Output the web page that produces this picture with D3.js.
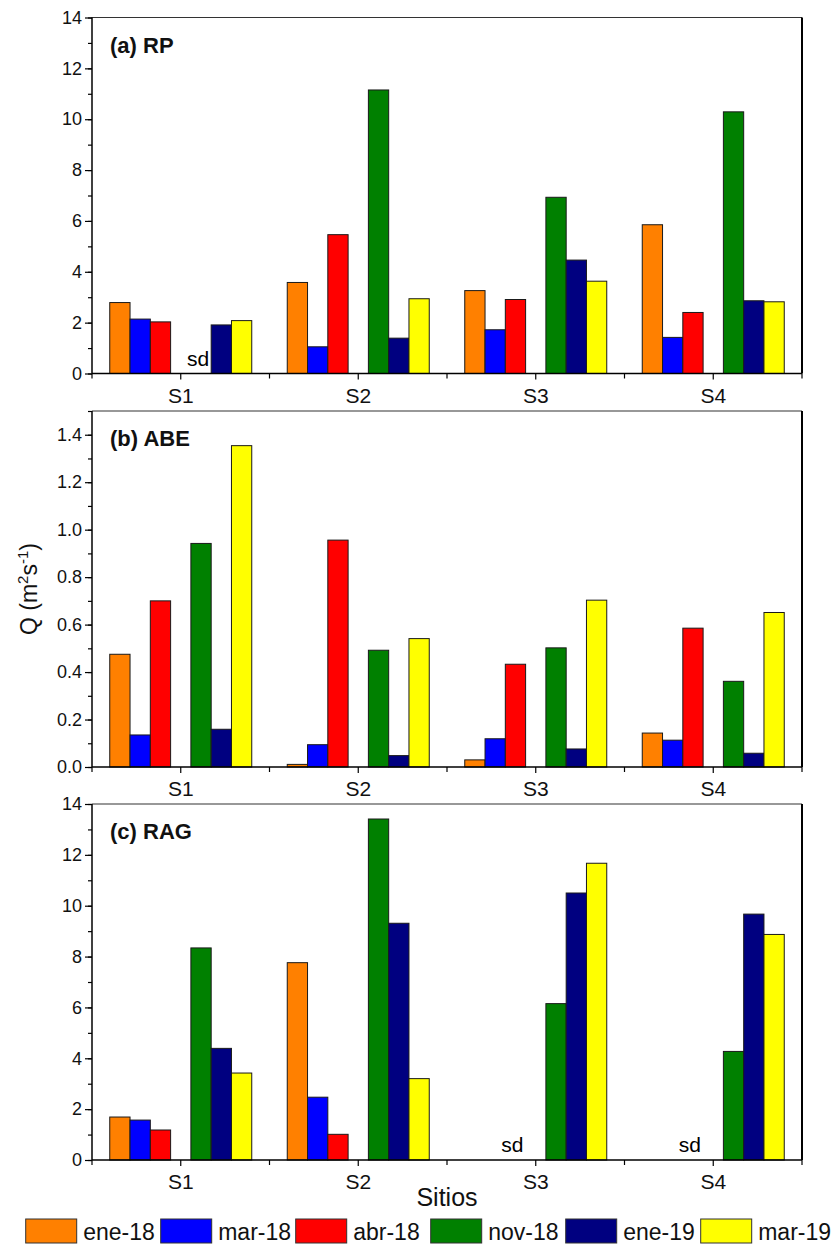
<!DOCTYPE html>
<html>
<head>
<meta charset="utf-8">
<script src="https://cdn.jsdelivr.net/npm/d3@7"></script>
<style>
  html, body { margin: 0; padding: 0; background: #fff; }
  svg { display: block; font-family: "Liberation Sans", Arial, sans-serif; }
</style>
</head>
<body>
<svg id="chart" width="837" height="1245"></svg>
<script>
// Sampling sites and campaigns
const sites = ["S1", "S2", "S3", "S4"];
const periods = ["ene-18", "mar-18", "abr-18", "nov-18", "ene-19", "mar-19"];
const periodColors = ["#FF8000", "#0000FF", "#FF0000", "#008000", "#000080", "#FFFF00"];

// Q (m2 s-1); one row per campaign, one value per site (null = sin dato)
const rpValues = [
  [2.79, 3.58, 3.26, 5.85],
  [2.14, 1.05, 1.72, 1.42],
  [2.03, 5.46, 2.91, 2.40],
  [null, 11.15, 6.93, 10.29],
  [1.91, 1.39, 4.46, 2.86],
  [2.08, 2.94, 3.63, 2.82]
];
const abeValues = [
  [0.475, 0.011, 0.030, 0.143],
  [0.135, 0.094, 0.119, 0.113],
  [0.700, 0.956, 0.433, 0.585],
  [0.942, 0.492, 0.502, 0.361],
  [0.159, 0.048, 0.076, 0.058],
  [1.354, 0.541, 0.703, 0.651]
];
const ragValues = [
  [1.69, 7.76, null, null],
  [1.57, 2.47, null, null],
  [1.18, 1.01, null, null],
  [8.34, 13.41, 6.15, 4.27],
  [4.39, 9.31, 10.50, 9.67],
  [3.42, 3.20, 11.67, 8.87]
];

// "sd" notes: site and the campaign slot where the note sits
const rpNotes = [{ site: "S1", period: "nov-18" }];
const abeNotes = [];
const ragNotes = [{ site: "S3", period: "abr-18" }, { site: "S4", period: "abr-18" }];

// Axis settings per panel
const panelTitles = ["(a) RP", "(b) ABE", "(c) RAG"];
const yMax = [14, 1.5, 14];
const yMajorStep = [2, 0.2, 2];
const yMinorStep = [1, 0.1, 1];
const yFormats = ["d", ".1f", "d"];

const panels = [
  { title: panelTitles[0], values: rpValues, notes: rpNotes },
  { title: panelTitles[1], values: abeValues, notes: abeNotes },
  { title: panelTitles[2], values: ragValues, notes: ragNotes }
];

const svg = d3.select("#chart");
const font = '"Liberation Sans", Arial, sans-serif';

const left = 92, right = 802;
const panelTops = [17.5, 411, 804];
const panelH = 356;

const x = d3.scaleBand().domain(sites).range([left, right]).paddingInner(0).paddingOuter(0);
const bw = x.bandwidth();
// seven slots per site: three 2018 campaigns, a blank slot, then three more
const slotKeys = ["ene-18", "mar-18", "abr-18", "_gap", "nov-18", "ene-19", "mar-19"];
const slot = d3.scaleBand().domain(slotKeys).range([bw * 0.1, bw * 0.9]).padding(0);

function stepTicks(max, step) {
  const n = Math.floor(max / step + 1e-6);
  return d3.range(0, n + 1).map(i => +(i * step).toFixed(4));
}

panels.forEach((p, pi) => {
  const top = panelTops[pi], bottom = top + panelH;
  const y = d3.scaleLinear().domain([0, yMax[pi]]).range([bottom, top]);
  const g = svg.append("g");

  // bars
  const bars = [];
  p.values.forEach((row, k) => {
    row.forEach((v, si) => {
      if (v !== null) bars.push({ site: sites[si], period: periods[k], color: periodColors[k], v });
    });
  });
  g.selectAll("rect.bar").data(bars).join("rect")
    .attr("class", "bar")
    .attr("x", d => x(d.site) + slot(d.period))
    .attr("width", slot.bandwidth())
    .attr("y", d => y(d.v))
    .attr("height", d => y(0) - y(d.v))
    .attr("fill", d => d.color)
    .attr("stroke", "#1a1a1a")
    .attr("stroke-width", 1);

  // "sd" notes
  g.selectAll("text.note").data(p.notes).join("text")
    .attr("class", "note")
    .attr("x", d => x(d.site) + slot(d.period) + slot.bandwidth() / 2 - 3)
    .attr("y", bottom - 8)
    .attr("text-anchor", "middle")
    .attr("font-size", 21)
    .attr("fill", "#000")
    .text("sd");

  // y axis: major ticks with labels, minor ticks without
  const majors = stepTicks(yMax[pi], yMajorStep[pi]);
  const minors = stepTicks(yMax[pi], yMinorStep[pi]);
  const yMinorAxis = d3.axisLeft(y).tickValues(minors).tickSize(4).tickFormat("");
  g.append("g").attr("transform", `translate(${left},0)`).call(yMinorAxis)
    .call(a => a.select(".domain").remove())
    .call(a => a.selectAll("line").attr("stroke", "#000").attr("stroke-width", 1.2));
  const yAxis = d3.axisLeft(y).tickValues(majors).tickSize(7).tickPadding(3)
    .tickFormat(d3.format(yFormats[pi]));
  g.append("g").attr("transform", `translate(${left},0)`).call(yAxis)
    .call(a => a.select(".domain").remove())
    .call(a => a.selectAll("line").attr("stroke", "#000").attr("stroke-width", 1.2))
    .call(a => a.selectAll("text").attr("font-size", 18).attr("font-family", font).attr("fill", "#111"));

  // x axis: boundary ticks and category ticks
  const boundaries = sites.map(s => x(s)).concat([right]);
  g.selectAll("line.bnd").data(boundaries).join("line")
    .attr("class", "bnd")
    .attr("x1", d => d).attr("x2", d => d)
    .attr("y1", bottom).attr("y2", bottom + 5)
    .attr("stroke", "#000").attr("stroke-width", 1.2);
  const xAxis = d3.axisBottom(x).tickSize(6).tickPadding(8);
  g.append("g").attr("transform", `translate(0,${bottom})`).call(xAxis)
    .call(a => a.select(".domain").remove())
    .call(a => a.selectAll("line").attr("stroke", "#000").attr("stroke-width", 1.2))
    .call(a => a.selectAll("text").attr("font-size", 21).attr("font-family", font)
      .attr("fill", "#111").attr("dy", null).attr("y", 29));

  // frame
  g.append("line").attr("x1", left).attr("x2", right).attr("y1", top).attr("y2", top)
    .attr("stroke", "#333").attr("stroke-width", 1.2);
  g.append("line").attr("x1", right).attr("x2", right).attr("y1", top).attr("y2", bottom)
    .attr("stroke", "#000").attr("stroke-width", 2);
  g.append("line").attr("x1", left).attr("x2", left).attr("y1", top).attr("y2", bottom)
    .attr("stroke", "#000").attr("stroke-width", 1.5);
  g.append("line").attr("x1", left).attr("x2", right).attr("y1", bottom).attr("y2", bottom)
    .attr("stroke", "#000").attr("stroke-width", 1.5);

  // panel title
  g.append("text")
    .attr("x", left + 18).attr("y", top + 35)
    .attr("font-size", 22).attr("font-weight", "bold").attr("fill", "#111")
    .text(p.title);
});

// y axis title
const yTitle = svg.append("text")
  .attr("transform", "translate(37,589) rotate(-90)")
  .attr("text-anchor", "middle")
  .attr("font-size", 23).attr("fill", "#111");
yTitle.append("tspan").text("Q (m");
yTitle.append("tspan").attr("dy", -9).attr("font-size", 15).text("2");
yTitle.append("tspan").attr("dy", 9).text("s");
yTitle.append("tspan").attr("dy", -9).attr("font-size", 15).text("-1");
yTitle.append("tspan").attr("dy", 9).text(")");

// x axis title
svg.append("text")
  .attr("x", (left + right) / 2).attr("y", 1206)
  .attr("text-anchor", "middle")
  .attr("font-size", 25).attr("fill", "#111")
  .text("Sitios");

// legend
const legendX = d3.scaleBand().domain(periods).range([25.7, 25.7 + 135 * periods.length]);
const legend = svg.append("g");
const items = legend.selectAll("g").data(periods).join("g")
  .attr("transform", d => `translate(${legendX(d)},1219)`);
items.append("rect")
  .attr("width", 51).attr("height", 24)
  .attr("fill", (d, i) => periodColors[i])
  .attr("stroke", "#333").attr("stroke-width", 1);
items.append("text")
  .attr("x", 57.5).attr("y", 21)
  .attr("font-size", 23).attr("fill", "#111")
  .text(d => d);
</script>
</body>
</html>
